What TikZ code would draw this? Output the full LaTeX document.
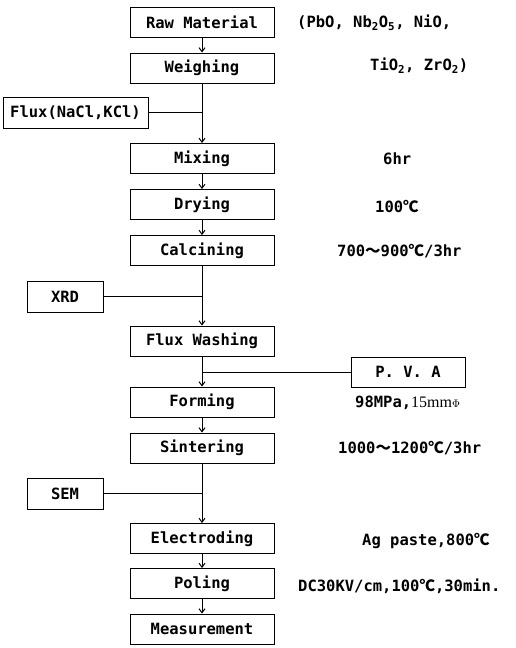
\documentclass[tikz,border=0pt]{standalone}
\usepackage{fontspec}
\setmonofont{DejaVu Sans Mono}
\setmainfont{Liberation Serif}
\newfontfamily\cjk{Noto Sans CJK SC}
\usetikzlibrary{arrows.meta}

\newcommand{\degc}{{\cjk ℃}}
\newcommand{\wave}{{\cjk ～}}
\newcommand{\labelfont}{\ttfamily\bfseries\fontsize{15.5}{18}\selectfont}

\tikzset{
  stage/.style={draw, line width=1pt, minimum width=144pt, minimum height=30pt,
    inner sep=0pt, font=\labelfont},
  extra/.style={draw, line width=1pt, minimum height=31pt, inner sep=0pt, font=\labelfont},
  note/.style={anchor=west, inner sep=0pt, font=\labelfont},
  flow/.style={line width=1pt, -{Straight Barb[length=4pt,width=6pt]}},
  feedline/.style={line width=1pt}
}

\begin{document}
\begin{tikzpicture}[x=1pt, y=-1pt]
  \useasboundingbox (0, 0) rectangle (515, 648);

  % process column
  \node[stage] (raw) at (202, 22) {Raw Material};
  \node[stage] (weigh) at (202, 68) {Weighing};
  \node[stage] (mix) at (202, 158.5) {Mixing};
  \node[stage] (dry) at (202, 204.5) {Drying};
  \node[stage] (calc) at (202, 250.5) {Calcining};
  \node[stage] (wash) at (202, 341) {Flux Washing};
  \node[stage] (form) at (202, 402) {Forming};
  \node[stage] (sint) at (202, 448) {Sintering};
  \node[stage] (elec) at (202, 538.5) {Electroding};
  \node[stage] (pol) at (202, 583.5) {Poling};
  \node[stage] (meas) at (202, 629) {Measurement};

  % side boxes
  \node[extra, minimum width=145pt] (flux) at (75.5, 112.5) {Flux(NaCl,KCl)};
  \node[extra, minimum width=76pt] (xrd) at (65, 296.5) {XRD};
  \node[extra, minimum width=114pt, minimum height=30pt] (pva) at (408, 372) {P.\ V.\ A};
  \node[extra, minimum width=76pt] (sem) at (65, 493.5) {SEM};

  % conditions
  \node[note] (rawa) at (297, 23) {(PbO, Nb\textsubscript{2}O\textsubscript{5}, NiO,};
  \node[note] (rawb) at (370, 66) {TiO\textsubscript{2}, ZrO\textsubscript{2})};
  \node[note] (mixc) at (383, 159) {6hr};
  \node[note] (dryc) at (375, 206) {100\degc};
  \node[note] (calcc) at (337, 251) {700\wave900\degc/3hr};
  \node[note] (formc) at (355, 403) {98MPa,{\rmfamily\mdseries\fontsize{16}{18}\selectfont 15mm}$\scriptstyle\Phi$};
  \node[note] (sintc) at (338, 448) {1000\wave1200\degc/3hr};
  \node[note] (elecc) at (362, 541) {Ag paste,800\degc};
  \node[note] (polc) at (298, 586) {DC30KV/cm,100\degc,30min.};

  % connectors
  \draw[flow] (raw) -- (weigh);
  \draw[flow] (weigh) -- (mix);
  \draw[feedline] (flux.east) -- (flux.east -| weigh);
  \draw[flow] (mix) -- (dry);
  \draw[flow] (dry) -- (calc);
  \draw[flow] (calc) -- (wash);
  \draw[feedline] (xrd.east) -- (xrd.east -| calc);
  \draw[flow] (wash) -- (form);
  \draw[feedline] (pva.west) -- (pva.west -| wash);
  \draw[flow] (form) -- (sint);
  \draw[flow] (sint) -- (elec);
  \draw[feedline] (sem.east) -- (sem.east -| sint);
  \draw[flow] (elec) -- (pol);
  \draw[flow] (pol) -- (meas);
\end{tikzpicture}
\end{document}
